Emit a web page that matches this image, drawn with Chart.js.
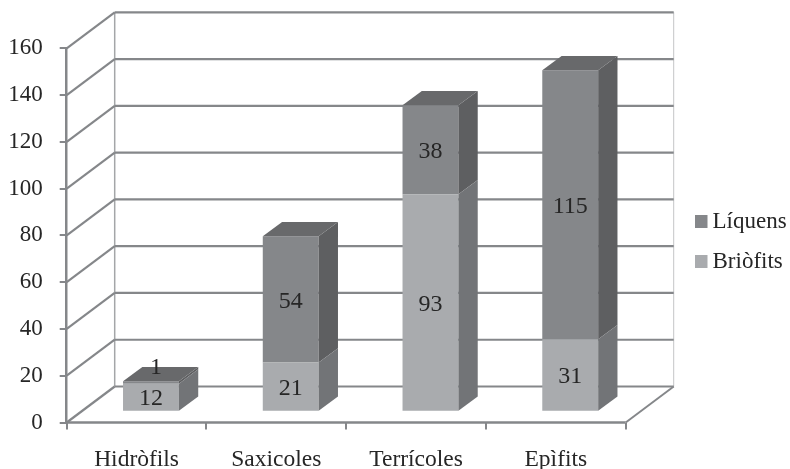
<!DOCTYPE html>
<html>
<head>
<meta charset="utf-8">
<style>
  html, body { margin: 0; padding: 0; background: #fff; }
  canvas { display: block; }
</style>
<script src="https://cdn.jsdelivr.net/npm/chart.js@4/dist/chart.umd.min.js"></script>
</head>
<body>
<canvas id="myChart" width="790" height="469"></canvas>
<script>
// --- Data ---
const categories = ['Hidròfils', 'Saxicoles', 'Terrícoles', 'Epìfits']
const briofits = [12, 21, 93, 31]
const liquens = [1, 54, 38, 115]
const yTicks = [0, 20, 40, 60, 80, 100, 120, 140, 160]

// --- Style ---
const FONT = '"Liberation Serif", serif'
const TEXT = '#262626'
const LINE = '#85878a'
const WALL_DX = 48, WALL_DY = -36      // back wall offset from the front plane
const BAR_DX = 14.4, BAR_DY = -10.8    // bar front face offset
const DEPTH_DX = 19.3, DEPTH_DY = -14.3 // bar depth

function poly(c, color, pts) {
    c.fillStyle = color
    c.beginPath()
    c.moveTo(pts[0][0], pts[0][1])
    for (let i = 1; i < pts.length; i++) c.lineTo(pts[i][0], pts[i][1])
    c.closePath()
    c.fill()
}

function line(c, x1, y1, x2, y2, width, color) {
    c.strokeStyle = color
    c.lineWidth = width
    c.beginPath()
    c.moveTo(x1, y1)
    c.lineTo(x2, y2)
    c.stroke()
}

// walls behind the bars
const wallsPlugin = {
    id: 'walls',
    beforeDatasetsDraw(chart) {
        const c = chart.ctx, a = chart.chartArea, y = chart.scales.y
        c.save()
        line(c, a.left + WALL_DX, a.top + WALL_DY, a.left + WALL_DX, a.bottom + WALL_DY, 1.5, '#a4a6a8')
        line(c, a.right + WALL_DX, a.top + WALL_DY, a.right + WALL_DX, a.bottom + WALL_DY, 1, '#c4c5c7')
        yTicks.forEach(v => {
            const py = y.getPixelForValue(v)
            line(c, a.left, py, a.left + WALL_DX, py + WALL_DY, 2.2, LINE)
            line(c, a.left + WALL_DX, py + WALL_DY, a.right + WALL_DX, py + WALL_DY, 2.2, LINE)
        })
        line(c, a.left, a.bottom, a.right, a.bottom, 2.5, LINE)
        line(c, a.right, a.bottom, a.right + WALL_DX, a.bottom + WALL_DY, 2, LINE)
        c.restore()
    }
}

// moves the bars onto the floor and adds their side and top faces
const barsPlugin = {
    id: 'bars3d',
    beforeDatasetDraw(chart) {
        chart.ctx.save()
        chart.ctx.translate(BAR_DX, BAR_DY)
    },
    afterDatasetDraw(chart, args) {
        const c = chart.ctx
        const ds = chart.data.datasets[args.index]
        const isTop = args.index === chart.data.datasets.length - 1
        args.meta.data.forEach(bar => {
            const r = bar.x + bar.width / 2, l = bar.x - bar.width / 2
            poly(c, ds.sideColor, [[r, bar.y], [r + DEPTH_DX, bar.y + DEPTH_DY],
                [r + DEPTH_DX, bar.base + DEPTH_DY], [r, bar.base]])
            if (isTop) {
                poly(c, ds.topColor, [[l, bar.y], [l + DEPTH_DX, bar.y + DEPTH_DY],
                    [r + DEPTH_DX, bar.y + DEPTH_DY], [r, bar.y]])
            }
        })
        c.restore()
    },
    afterDatasetsDraw(chart) {
        const c = chart.ctx
        c.save()
        c.font = '24px ' + FONT
        c.fillStyle = TEXT
        c.textAlign = 'center'
        c.textBaseline = 'middle'
        chart.data.datasets.forEach((ds, i) => {
            chart.getDatasetMeta(i).data.forEach((bar, j) => {
                let px = bar.x + BAR_DX
                let py = (bar.y + bar.base) / 2 + BAR_DY + 2
                // the thin segment has its label lifted above the bar
                if (bar.base - bar.y < 10) { px += 5; py -= 17 }
                c.fillText(ds.data[j], px, py)
            })
        })
        // legend
        c.font = '23px ' + FONT
        c.textAlign = 'left'
        const rows = [chart.data.datasets[1], chart.data.datasets[0]]
        rows.forEach((ds, i) => {
            const top = 215 + i * 40
            c.fillStyle = ds.backgroundColor
            c.fillRect(695, top, 12.5, 13)
            c.fillStyle = TEXT
            c.fillText(ds.label, 712.5, top + 6.5)
        })
        c.restore()
    }
}

// --- Build chart ---
const ctx = document.getElementById('myChart').getContext('2d')
new Chart(ctx, {
    type: 'bar',
    data: {
        labels: categories,
        datasets: [
            { label: 'Briòfits', data: briofits, backgroundColor: '#a9abae', sideColor: '#727477', topColor: '#8f9194', clip: false },
            { label: 'Líquens', data: liquens, backgroundColor: '#85878a', sideColor: '#5e5f61', topColor: '#68696b', clip: false }
        ]
    },
    options: {
        responsive: false,
        animation: false,
        layout: { padding: { top: 48.3, right: 164.3, left: 0, bottom: 0 } },
        barPercentage: 0.4,
        categoryPercentage: 1,
        plugins: { legend: { display: false }, title: { display: false }, tooltip: { enabled: false } },
        scales: {
            x: {
                stacked: true,
                afterFit(scale) { scale.height = 46.5 },
                grid: { drawOnChartArea: false, drawTicks: true, tickLength: 7, color: LINE, lineWidth: 2 },
                border: { display: false },
                ticks: { color: TEXT, font: { family: FONT, size: 23.5 }, padding: 16, maxRotation: 0 }
            },
            y: {
                stacked: true,
                min: 0,
                max: 160,
                afterFit(scale) { scale.width = 66.7 },
                afterBuildTicks(scale) { scale.ticks = yTicks.map(v => ({ value: v })) },
                grid: { drawOnChartArea: false, drawTicks: true, tickLength: 7, color: LINE, lineWidth: 2 },
                border: { display: true, color: LINE, width: 2.5 },
                ticks: { color: TEXT, font: { family: FONT, size: 23 }, padding: 17 }
            }
        }
    },
    plugins: [wallsPlugin, barsPlugin]
})
</script>
</body>
</html>
